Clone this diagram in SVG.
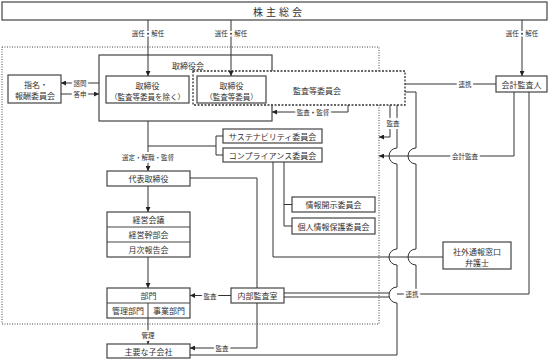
<svg xmlns="http://www.w3.org/2000/svg" width="549" height="360" viewBox="0 0 549 360">
<defs>
<marker id="ah" markerWidth="5" markerHeight="5" refX="5" refY="2.5" orient="auto" markerUnits="userSpaceOnUse"><path d="M0,0 L5,2.5 L0,5 Z" fill="#222"/></marker>
<style>
.box{fill:#fff;stroke:#444;stroke-width:1.2}
.t{font-family:"Noto Sans CJK JP",sans-serif;font-size:8px;fill:#333;text-anchor:middle;dominant-baseline:central}
.l{font-family:"Noto Sans CJK JP",sans-serif;font-size:6.5px;fill:#333;text-anchor:middle;dominant-baseline:central;paint-order:stroke;stroke:#fff;stroke-width:4px;stroke-linejoin:round}
.c{fill:none;stroke:#333;stroke-width:1}
.a{marker-end:url(#ah)}
</style>
</defs>
<rect x="0" y="0" width="549" height="360" fill="#fff"/>

<g id="frame-outer">
<rect x="2" y="47" width="377" height="277" fill="none" stroke="#444" stroke-width="1" stroke-dasharray="1,1.5"/>
</g>

<g id="shareholders">
<rect class="box" x="2" y="2" width="545" height="18"/>
<text class="t" x="279" y="11.5" style="font-size:10px;letter-spacing:3px">株主総会</text>
</g>

<g id="board">
<rect class="box" x="99" y="55" width="173" height="66"/>
<text class="t" x="188" y="65">取締役会</text>
</g>

<g id="audit-committee">
<rect x="193" y="71" width="212" height="34" fill="#fff" stroke="#333" stroke-width="1.3" stroke-dasharray="2,1.5"/>
<text class="t" x="317" y="90">監査等委員会</text>
</g>

<g id="directors">
<rect class="box" x="106" y="76" width="83" height="27"/>
<text class="t" x="147.5" y="85.5">取締役</text>
<text class="t" x="147.5" y="96" style="font-size:7.5px">（監査等委員を除く）</text>
</g>

<g id="directors-audit">
<rect class="box" x="197" y="76" width="69" height="27"/>
<text class="t" x="231.5" y="85.5">取締役</text>
<text class="t" x="231.5" y="96" style="font-size:7.5px">（監査等委員）</text>
</g>

<g id="nomination">
<rect class="box" x="8" y="75" width="53" height="28"/>
<text class="t" x="36" y="84.5">指名・</text>
<text class="t" x="35" y="95">報酬委員会</text>
</g>

<g id="accounting-auditor">
<rect class="box" x="496" y="76" width="51" height="16"/>
<text class="t" x="521.5" y="84">会計監査人</text>
</g>

<g id="sustainability">
<rect class="box" x="223" y="129" width="99" height="14"/>
<text class="t" x="272.5" y="136">サステナビリティ委員会</text>
</g>

<g id="compliance">
<rect class="box" x="223" y="148" width="99" height="14"/>
<text class="t" x="272.5" y="155">コンプライアンス委員会</text>
</g>

<g id="disclosure">
<rect class="box" x="292" y="197" width="83" height="15"/>
<text class="t" x="333.5" y="204.5">情報開示委員会</text>
</g>

<g id="privacy">
<rect class="box" x="292" y="218" width="83" height="16"/>
<text class="t" x="333.5" y="226">個人情報保護委員会</text>
</g>

<g id="ceo">
<rect class="box" x="107" y="171" width="83" height="15"/>
<text class="t" x="148.5" y="178.5">代表取締役</text>
</g>

<g id="meetings">
<rect class="box" x="107" y="212" width="83" height="45"/>
<line x1="107" y1="227" x2="190" y2="227" stroke="#444" stroke-width="1"/>
<line x1="107" y1="242" x2="190" y2="242" stroke="#444" stroke-width="1"/>
<text class="t" x="148.5" y="219.5">経営会議</text>
<text class="t" x="148.5" y="234.5">経営幹部会</text>
<text class="t" x="148.5" y="249.5">月次報告会</text>
</g>

<g id="departments">
<rect class="box" x="107" y="288" width="83" height="30"/>
<line x1="107" y1="303" x2="190" y2="303" stroke="#444" stroke-width="1"/>
<line x1="148" y1="303" x2="148" y2="318" stroke="#444" stroke-width="1"/>
<text class="t" x="148.5" y="295.5">部門</text>
<text class="t" x="128" y="310.5">管理部門</text>
<text class="t" x="169" y="310.5">事業部門</text>
</g>

<g id="subsidiaries">
<rect class="box" x="107" y="344" width="83" height="14"/>
<text class="t" x="148.5" y="351">主要な子会社</text>
</g>

<g id="internal-audit">
<rect class="box" x="231" y="288" width="53" height="15"/>
<text class="t" x="257.5" y="295.5">内部監査室</text>
</g>

<g id="whistleblow">
<rect class="box" x="443" y="242" width="68" height="27"/>
<text class="t" x="477" y="251">社外通報窓口</text>
<text class="t" x="477" y="262">弁護士</text>
</g>

<g id="connectors">
<path class="c a" d="M148,20 V76"/>
<path class="c a" d="M231,20 V76"/>
<path class="c a" d="M522,20 V76"/>
<path class="c a" d="M99,83 H61"/>
<path class="c a" d="M61,94 H99"/>
<path class="c" d="M405,84 H496"/>
<path class="c a" d="M348,105 V112 H272"/>
<path class="c a" d="M148,121 V171"/>
<path class="c" d="M148,146 H216 M223,136 H216 V155 H223"/>
<path class="c a" d="M148,186 V212"/>
<path class="c a" d="M148,257 V288"/>
<path class="c a" d="M148,318 V344"/>
<path class="c" d="M190,178 H257 V288"/>
<path class="c a" d="M231,295.5 H190"/>
<path class="c a" d="M257,303 V348 H190"/>
<path class="c" d="M273,162 V257 H443"/>
<path class="c" d="M284,162 V226 H292 M284,204.5 H292"/>
<path class="c a" d="M390,105 V137 H379"/>
<path class="c" d="M397,105 V148 A8,8 0 0,0 397,164 V249 A8,8 0 0,0 397,265 V287 A8,8 0 0,0 397,303 V355 H190"/>
<path class="c" d="M405,92 H416 V148 A8,8 0 0,0 416,164 V249 A8,8 0 0,0 416,265 V290"/>
<path class="c a" d="M514,92 V156 H379"/>
<path class="c" d="M529,92 V294 H397"/>
<path class="c" d="M284,293 H389 M284,297 H389"/>
<text class="l" x="148" y="33">選任・解任</text>
<text class="l" x="231" y="33">選任・解任</text>
<text class="l" x="522" y="33">選任・解任</text>
<text class="l" x="80" y="83">諮問</text>
<text class="l" x="80" y="94">答申</text>
<text class="l" x="465" y="84">連携</text>
<text class="l" x="313" y="112">監査・監督</text>
<text class="l" x="148" y="157">選定・解職・監督</text>
<text class="l" x="393" y="123">監査</text>
<text class="l" x="465" y="156">会計監査</text>
<text class="l" x="210" y="295.5">監査</text>
<text class="l" x="222" y="348">監査</text>
<text class="l" x="148" y="335">管理</text>
<text class="l" x="412" y="294">連携</text>
</g>
</svg>
